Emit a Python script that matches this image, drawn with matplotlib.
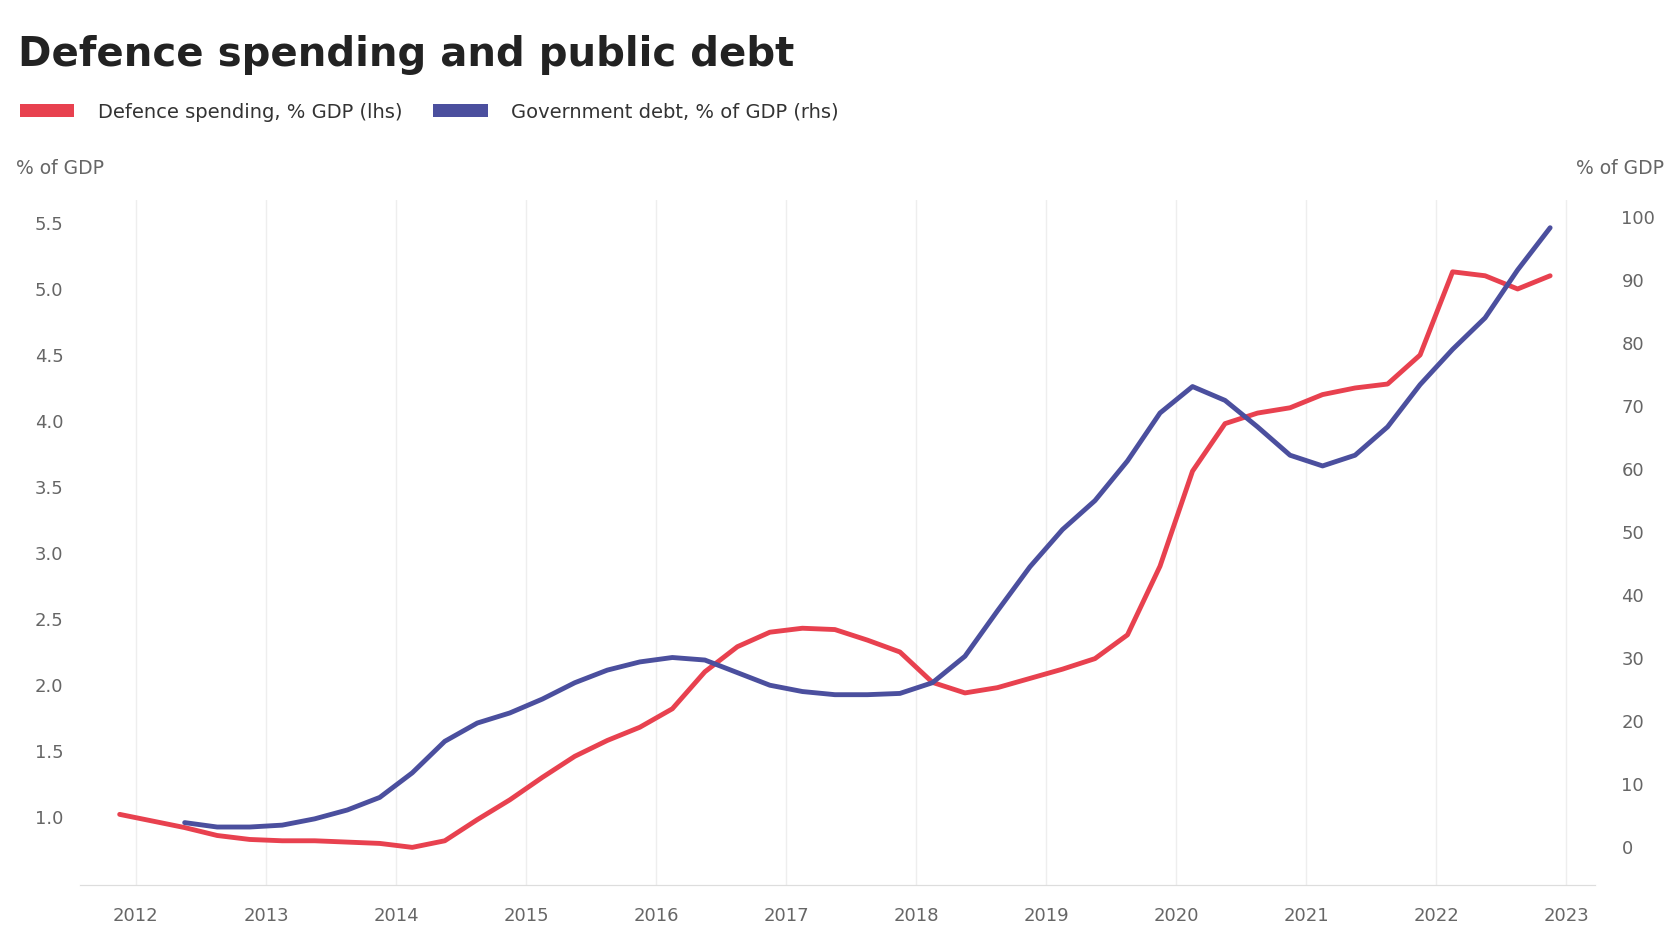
import matplotlib
matplotlib.use("Agg")
import matplotlib.pyplot as plt
from matplotlib.patches import Patch
import pandas as pd

# chart values
title = "Defence spending and public debt"
label_left = "Defence spending, % GDP (lhs)"
label_right = "Government debt, % of GDP (rhs)"
unit_left = "% of GDP"
unit_right = "% of GDP"

years = ["2012", "2013", "2014", "2015", "2016", "2017",
         "2018", "2019", "2020", "2021", "2022", "2023"]
left_ticks = [1.0, 1.5, 2.0, 2.5, 3.0, 3.5, 4.0, 4.5, 5.0, 5.5]
right_ticks = [0, 10, 20, 30, 40, 50, 60, 70, 80, 90, 100]

red_quarters = pd.period_range("2011Q4", "2022Q4", freq="Q")
red_values = [1.02, 0.97, 0.92, 0.86, 0.83, 0.82, 0.82, 0.81, 0.80, 0.77,
              0.82, 0.98, 1.13, 1.30, 1.46, 1.58, 1.68, 1.82, 2.10, 2.29,
              2.40, 2.43, 2.42, 2.34, 2.25, 2.02, 1.94, 1.98, 2.05, 2.12,
              2.20, 2.38, 2.90, 3.62, 3.98, 4.06, 4.10, 4.20, 4.25, 4.28,
              4.50, 5.13, 5.10, 5.00, 5.10]

blue_quarters = pd.period_range("2012Q2", "2022Q4", freq="Q")
blue_values = [3.9, 3.2, 3.2, 3.5, 4.5, 5.9, 7.9, 11.8, 16.8, 19.7,
               21.3, 23.5, 26.1, 28.1, 29.4, 30.1, 29.7, 27.7, 25.7, 24.7,
               24.2, 24.2, 24.4, 26.1, 30.3, 37.5, 44.5, 50.4, 55.0, 61.3,
               68.9, 73.1, 70.9, 66.7, 62.2, 60.5, 62.2, 66.7, 73.4, 79.0,
               84.0, 91.6, 98.3]

RED = "#e8414f"
BLUE = "#4b4f9e"
GREY = "#666666"


def to_year(quarters):
    # middle of each quarter as a decimal year
    return [q.year + (q.quarter - 0.5) / 4 for q in quarters]


W, H = 1680, 938
fig = plt.figure(figsize=(W / 100, H / 100), dpi=100)
fig.patch.set_facecolor("white")

# axes box in pixels: left 80, right 1595, top 200, bottom 885
ax = fig.add_axes([80 / W, 1 - 885 / H, (1595 - 80) / W, (885 - 200) / H])
ax2 = ax.twinx()

ax.plot(to_year(red_quarters), red_values, color=RED, lw=3.5, zorder=3,
        solid_capstyle="round")
ax2.plot(to_year(blue_quarters), blue_values, color=BLUE, lw=3.5, zorder=3,
         solid_capstyle="round")

year_pos = [int(y) for y in years]
ax.set_xlim(2011.57, 2023.22)
ax.set_xticks(year_pos)
ax.set_xticklabels(years)

ax.set_ylim(0.485, 5.674)
ax.set_yticks(left_ticks)
ax.set_yticklabels([f"{t:.1f}" for t in left_ticks])
ax2.set_ylim(-6.0, 102.7)
ax2.set_yticks(right_ticks)
ax2.set_yticklabels([str(t) for t in right_ticks])

ax.grid(axis="x", color="#eeeeee", lw=1)
ax.set_axisbelow(True)
for a in (ax, ax2):
    for s in ("top", "left", "right"):
        a.spines[s].set_visible(False)
    a.spines["bottom"].set_color("#dddddd")
    a.tick_params(length=0, labelsize=13, labelcolor=GREY)
ax.tick_params(axis="y", pad=12)
ax2.tick_params(axis="y", pad=19)
ax.tick_params(axis="x", pad=16)

fig.text(18 / W, 1 - 55 / H, title, fontsize=29, fontweight="bold",
         color="#222222", ha="left", va="center")
fig.text(16 / W, 1 - 169 / H, unit_left, fontsize=13.5, color=GREY,
         ha="left", va="center")
fig.text(1664 / W, 1 - 169 / H, unit_right, fontsize=13.5, color=GREY,
         ha="right", va="center")

handles = [Patch(facecolor=RED, label=label_left),
           Patch(facecolor=BLUE, label=label_right)]
fig.legend(handles=handles, loc="center left",
           bbox_to_anchor=(20 / W, 1 - 112 / H), ncol=2, frameon=False,
           fontsize=14, handlelength=2.8, handleheight=0.7,
           handletextpad=1.2, columnspacing=1.6, borderpad=0,
           borderaxespad=0, labelcolor="#333333")

fig.savefig("out.png", dpi=100, facecolor="white")
